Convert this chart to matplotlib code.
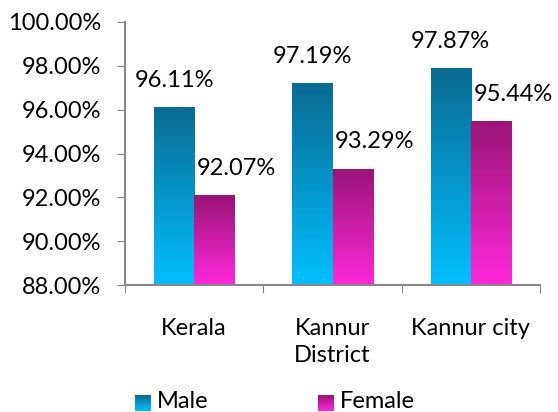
import numpy as np
import matplotlib
matplotlib.use("Agg")
import matplotlib.pyplot as plt
from matplotlib.colors import LinearSegmentedColormap
from matplotlib.ticker import PercentFormatter

plt.rcParams['font.family'] = ['Lato', 'DejaVu Sans']

categories = ["Kerala", "Kannur\nDistrict", "Kannur city"]
male = [96.11, 97.19, 97.87]
female = [92.07, 93.29, 95.44]
series_names = ["Male", "Female"]

male_cmap = LinearSegmentedColormap.from_list("male", ["#00BFFF", "#0A6B93"])
female_cmap = LinearSegmentedColormap.from_list("female", ["#FF28DA", "#9A1477"])

fig = plt.figure(figsize=(5.58, 4.12), dpi=100)
ax = fig.add_axes([125 / 558, 1 - 285 / 412, 415 / 558, 263 / 412])

x = np.arange(len(categories))
w = 0.29
ymin, ymax = 88, 100

grad = np.linspace(0, 1, 256).reshape(-1, 1)


def gradient_bars(xs, vals, cmap):
    bars = ax.bar(xs, [v - ymin for v in vals], w, bottom=ymin, color="none")
    for b in bars:
        x0, y0 = b.get_x(), b.get_y()
        ax.imshow(grad, cmap=cmap, origin="lower", aspect="auto",
                  extent=(x0, x0 + b.get_width(), y0, y0 + b.get_height()),
                  zorder=2)
    return bars


mb = gradient_bars(x - w / 2, male, male_cmap)
fb = gradient_bars(x + w / 2, female, female_cmap)

fs = 17
for b, v in zip(mb, male):
    ax.annotate(f"{v:.2f}%", (b.get_x() + b.get_width() / 2, v),
                xytext=(0, 12), textcoords="offset points",
                ha="center", va="bottom", fontsize=fs)
for b, v in zip(fb, female):
    ax.annotate(f"{v:.2f}%", (b.get_x() + b.get_width() / 2, v),
                xytext=(16, 12), textcoords="offset points",
                ha="center", va="bottom", fontsize=fs)

ax.set_xlim(-0.5, len(categories) - 0.5)
ax.set_ylim(ymin, ymax)
ax.set_yticks(np.arange(88, 100.1, 2))
ax.yaxis.set_major_formatter(PercentFormatter(decimals=2))
ax.set_xticks(np.arange(-0.5, len(categories), 1))
ax.set_xticklabels([])
ax.set_xticks(x, minor=True)
ax.set_xticklabels(categories, minor=True, fontsize=fs, linespacing=1.35, va="top")
ax.tick_params(axis="x", which="minor", length=0, pad=24)
ax.tick_params(axis="x", which="major", length=6, direction="out", color="#888888")
ax.tick_params(axis="y", length=6, color="#888888", labelsize=fs, pad=11)
for s in ["top", "right"]:
    ax.spines[s].set_visible(False)
for s in ["left", "bottom"]:
    ax.spines[s].set_color("#888888")
    ax.spines[s].set_linewidth(1.5)

# legend with gradient swatches
for cmap, name, px in [(male_cmap, series_names[0], 135), (female_cmap, series_names[1], 318)]:
    sw = fig.add_axes([px / 558, 1 - 411 / 412, 16 / 558, 16 / 412])
    sw.imshow(grad, cmap=cmap, origin="lower", aspect="auto")
    sw.set_axis_off()
    fig.text((px + 22) / 558, 1 - 401 / 412, name, fontsize=fs, va="center", ha="left")

fig.savefig("out.png", dpi=100)
